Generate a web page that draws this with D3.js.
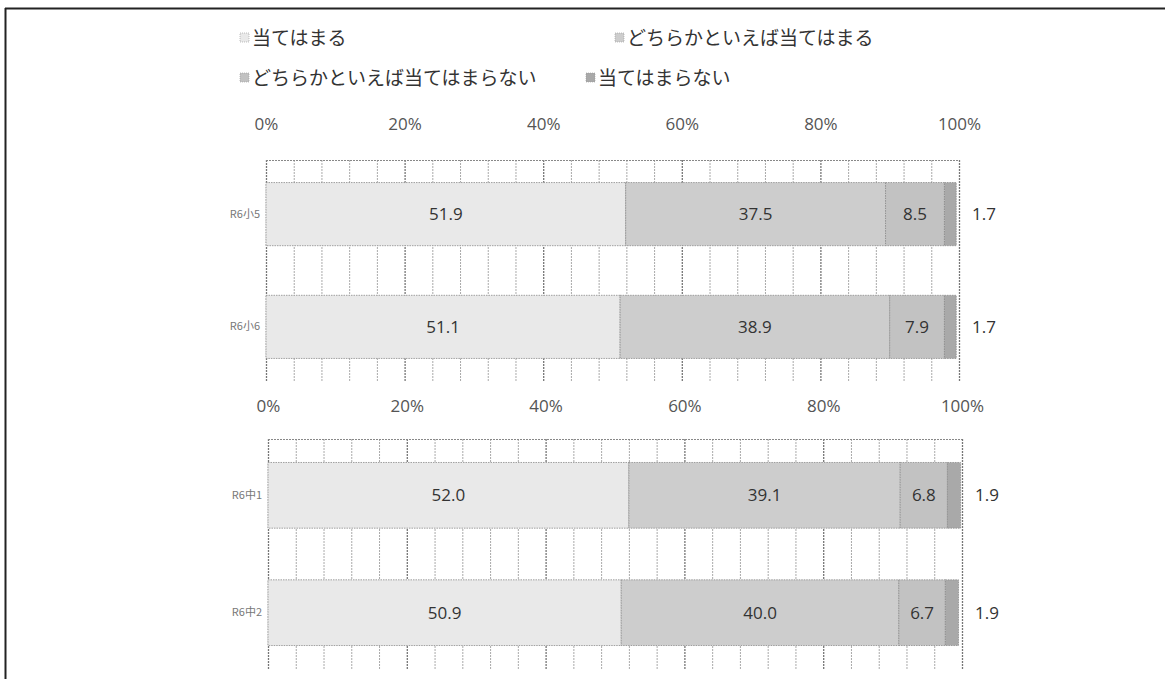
<!DOCTYPE html>
<html lang="ja">
<head>
<meta charset="UTF-8">
<title>R6 stacked bars</title>
<script src="https://d3js.org/d3.v7.min.js"></script>
<style>
    body { margin: 0; background: #ffffff; }
    svg { display: block; }
    text { font-family: "Noto Sans CJK JP", "Noto Sans", sans-serif; }
</style>
</head>
<body>
<svg id="chart" width="1165" height="679"></svg>
<script>
    // data
    const categories = ["R6小5", "R6小6", "R6中1", "R6中2"];
    const seriesNames = ["当てはまる", "どちらかといえば当てはまる", "どちらかといえば当てはまらない", "当てはまらない"];
    const atehamaru = [51.9, 51.1, 52.0, 50.9];
    const dochiraAte = [37.5, 38.9, 39.1, 40.0];
    const dochiraNai = [8.5, 7.9, 6.8, 6.7];
    const atehamaranai = [1.7, 1.7, 1.9, 1.9];
    const panelCats = [["R6小5", "R6小6"], ["R6中1", "R6中2"]];
    const tickValues = [0, 20, 40, 60, 80, 100];

    const colors = ["#e9e9e9", "#cdcdcd", "#c2c2c2", "#a9a9a9"];

    const rows = categories.map((c, i) => ({
        cat: c,
        s0: atehamaru[i], s1: dochiraAte[i], s2: dochiraNai[i], s3: atehamaranai[i]
    }));
    const keys = ["s0", "s1", "s2", "s3"];
    const stacked = d3.stack().keys(keys)(rows);

    const svg = d3.select("#chart");

    // frame (left + top only, as scanned)
    svg.append("line").attr("x1", 5.5).attr("x2", 5.5).attr("y1", 8).attr("y2", 679)
        .attr("stroke", "#222").attr("stroke-width", 2);
    svg.append("line").attr("x1", 5).attr("x2", 1165).attr("y1", 8.5).attr("y2", 8.5)
        .attr("stroke", "#222").attr("stroke-width", 2);

    // legend
    const legendPos = [[240, 38], [615, 38], [240, 78], [586, 78]];
    seriesNames.forEach((name, i) => {
        const g = svg.append("g").attr("transform", `translate(${legendPos[i][0]},${legendPos[i][1]})`);
        g.append("rect").attr("x", 0).attr("y", -5).attr("width", 9).attr("height", 9)
            .attr("fill", colors[i]).attr("stroke", "#999").attr("stroke-width", 0.6)
            .attr("stroke-dasharray", "1,1");
        g.append("text").attr("x", 12).attr("y", 0).attr("dy", "0.35em")
            .attr("font-size", 19).attr("fill", "#333").text(name);
    });

    const panels = [
        { x0: 266, x1: 959, top: 160, bottom: 381, axisY: 125, cats: panelCats[0] },
        { x0: 268, x1: 962, top: 439, bottom: 669, axisY: 407, cats: panelCats[1] }
    ];

    panels.forEach(p => {
        const x = d3.scaleLinear().domain([0, 100]).range([p.x0, p.x1]);
        const y = d3.scaleBand().domain(p.cats).range([p.top, p.bottom])
            .paddingInner(0.44).paddingOuter(0.2);
        const g = svg.append("g");

        // grid lines every 4%
        const grid = d3.range(0, 101, 4);
        g.append("g").selectAll("line").data(grid).join("line")
            .attr("x1", d => x(d) + 0.5).attr("x2", d => x(d) + 0.5)
            .attr("y1", p.top).attr("y2", p.bottom)
            .attr("stroke", d => d % 20 === 0 ? "#777" : "#aaa")
            .attr("stroke-width", d => d % 20 === 0 ? 1.3 : 1)
            .attr("stroke-dasharray", "2,1");
        g.append("line").attr("x1", p.x0).attr("x2", p.x1)
            .attr("y1", p.top + 0.5).attr("y2", p.top + 0.5)
            .attr("stroke", "#888").attr("stroke-dasharray", "2,1");

        // axis labels on top
        const axis = d3.axisTop(x).tickValues(tickValues).tickSize(0).tickFormat(d => d + "%");
        const ax = g.append("g").attr("transform", `translate(0,${p.axisY + 8})`).call(axis);
        ax.select(".domain").remove();
        ax.selectAll("text").attr("font-size", 17).attr("fill", "#555")
            .style("font-family", "\"Open Sans\", \"Noto Sans\", sans-serif");

        // category labels
        const yAxis = d3.axisLeft(y).tickSize(0).tickPadding(6);
        const ay = g.append("g").attr("transform", `translate(${p.x0},0)`).call(yAxis);
        ay.select(".domain").remove();
        ay.selectAll("text").attr("font-size", 11).attr("fill", "#777")
            .style("font-family", "\"Noto Sans CJK JP\", sans-serif");

        // bars
        stacked.forEach((layer, k) => {
            const data = layer.filter(d => p.cats.includes(d.data.cat));
            g.append("g").selectAll("rect").data(data).join("rect")
                .attr("x", d => x(d[0]))
                .attr("y", d => y(d.data.cat))
                .attr("width", d => x(d[1]) - x(d[0]))
                .attr("height", y.bandwidth())
                .attr("fill", colors[k])
                .attr("stroke", "#8a8a8a").attr("stroke-width", 0.8)
                .attr("stroke-dasharray", "1.5,1");

            g.append("g").selectAll("text").data(data).join("text")
                .attr("x", d => k === 3 ? x(100) + 13 : (x(d[0]) + x(d[1])) / 2)
                .attr("y", d => y(d.data.cat) + y.bandwidth() / 2)
                .attr("dy", "0.35em")
                .attr("text-anchor", k === 3 ? "start" : "middle")
                .attr("font-size", 17).attr("fill", "#333")
                .style("font-family", "\"Open Sans\", \"Noto Sans\", sans-serif")
                .text(d => (d[1] - d[0]).toFixed(1));
        });
    });
</script>
</body>
</html>
